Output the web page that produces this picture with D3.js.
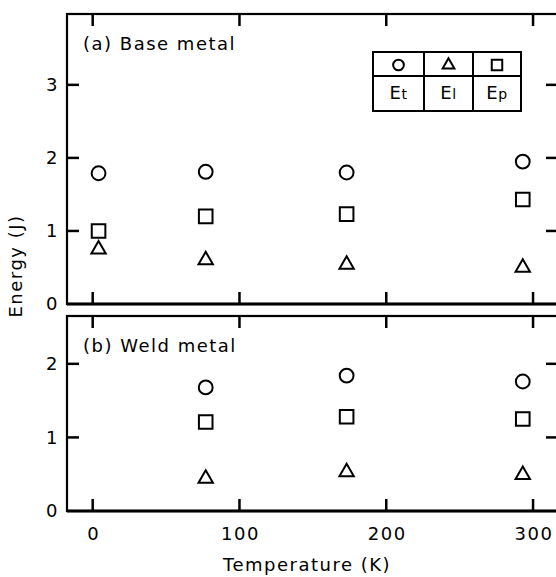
<!DOCTYPE html>
<html>
<head>
<meta charset="utf-8">
<script src="https://cdn.jsdelivr.net/npm/d3@7"></script>
<style>
  body { margin: 0; background: #fff; }
  svg { font-family: "DejaVu Sans", sans-serif; }
  text { font-size: 18px; letter-spacing: 1.5px; fill: #000; }
</style>
</head>
<body>
<svg width="556" height="577"></svg>
<script>
// temperatures (K) and energies (J)
var baseTemp = [4, 77, 173, 293],
    baseEt = [1.79, 1.81, 1.80, 1.95],
    baseEi = [0.75, 0.60, 0.54, 0.50],
    baseEp = [1.00, 1.20, 1.23, 1.43];

var weldTemp = [77, 173, 293],
    weldEt = [1.68, 1.84, 1.76],
    weldEi = [0.44, 0.53, 0.49],
    weldEp = [1.21, 1.28, 1.25];

var xTicks = [0, 100, 200, 300];

var svg = d3.select("svg");

var left = 67, right = 558, tickLen = 12;

// shared temperature scale
var x = d3.scaleLinear().domain([-17.5, 317]).range([left, right]);

var panels = [
  {label: "(a) Base metal", top: 14, bottom: 304, ymax: 3.97, yticks: [0, 1, 2, 3],
   temp: baseTemp, et: baseEt, ei: baseEi, ep: baseEp, xlabels: false},
  {label: "(b) Weld metal", top: 316, bottom: 511, ymax: 2.65, yticks: [0, 1, 2],
   temp: weldTemp, et: weldEt, ei: weldEi, ep: weldEp, xlabels: true}
];

var circle = d3.symbol().type(d3.symbolCircle).size(150),
    triangle = d3.symbol().type(d3.symbolTriangle).size(90),
    square = d3.symbol().type(d3.symbolSquare).size(185);

panels.forEach(function(p) {
  var y = d3.scaleLinear().domain([0, p.ymax]).range([p.bottom, p.top]);
  var g = svg.append("g");
  var h = p.bottom - p.top, w = right - left;

  // frame
  g.append("rect")
      .attr("x", left).attr("y", p.top)
      .attr("width", w).attr("height", h)
      .attr("fill", "none").attr("stroke", "#000").attr("stroke-width", 2.2);
  g.append("line")
      .attr("x1", left).attr("x2", right)
      .attr("y1", p.bottom).attr("y2", p.bottom)
      .attr("stroke", "#000").attr("stroke-width", 3);

  // inward ticks on all four sides
  xTicks.forEach(function(t) {
    g.append("line").attr("class", "tk")
        .attr("x1", x(t)).attr("x2", x(t))
        .attr("y1", p.bottom).attr("y2", p.bottom - tickLen);
    g.append("line").attr("class", "tk")
        .attr("x1", x(t)).attr("x2", x(t))
        .attr("y1", p.top).attr("y2", p.top + tickLen);
  });
  p.yticks.slice(1).forEach(function(t) {
    g.append("line").attr("class", "tk")
        .attr("x1", left).attr("x2", left + tickLen)
        .attr("y1", y(t)).attr("y2", y(t));
    g.append("line").attr("class", "tk")
        .attr("x1", right - tickLen).attr("x2", right)
        .attr("y1", y(t)).attr("y2", y(t));
  });
  g.selectAll(".tk").attr("stroke", "#000").attr("stroke-width", 2.5);

  // tick labels
  g.selectAll(".yl").data(p.yticks).enter().append("text")
      .attr("x", left - 8).attr("y", function(d) { return y(d); })
      .attr("dy", "0.36em").attr("text-anchor", "end")
      .text(function(d) { return d; });
  if (p.xlabels) {
    g.selectAll(".xl").data(xTicks).enter().append("text")
        .attr("x", function(d) { return x(d) + 1; }).attr("y", p.bottom + 29)
        .attr("text-anchor", "middle")
        .text(function(d) { return d; });
  }

  g.append("text")
      .attr("x", left + 16).attr("y", p.top + 36)
      .text(p.label);

  function marks(vals, sym) {
    g.append("g").selectAll("path")
        .data(vals).enter().append("path")
        .attr("transform", function(d, i) { return "translate(" + x(p.temp[i]) + "," + y(d) + ")"; })
        .attr("d", sym)
        .attr("fill", "none").attr("stroke", "#000").attr("stroke-width", 2);
  }
  marks(p.et, circle);
  marks(p.ei, triangle);
  marks(p.ep, square);
});

// legend table in panel (a)
var legend = svg.append("g").attr("transform", "translate(373,52)");
var lw = 148, lh = 59, cols = [0, 51, 100, 148];
legend.append("rect").attr("width", lw).attr("height", lh)
    .attr("fill", "#fff").attr("stroke", "#000").attr("stroke-width", 2);
legend.append("line").attr("x1", 0).attr("x2", lw).attr("y1", 24).attr("y2", 24)
    .attr("stroke", "#000").attr("stroke-width", 2);
[1, 2].forEach(function(i) {
  legend.append("line").attr("x1", cols[i]).attr("x2", cols[i]).attr("y1", 0).attr("y2", lh)
      .attr("stroke", "#000").attr("stroke-width", 2);
});
var legSyms = [d3.symbol().type(d3.symbolCircle).size(90),
               d3.symbol().type(d3.symbolTriangle).size(60),
               d3.symbol().type(d3.symbolSquare).size(110)];
var legNames = [["E", "t"], ["E", "l"], ["E", "p"]];
legSyms.forEach(function(s, i) {
  var cx = (cols[i] + cols[i + 1]) / 2;
  legend.append("path").attr("d", s)
      .attr("transform", "translate(" + cx + "," + 13 + ")")
      .attr("fill", "none").attr("stroke", "#000").attr("stroke-width", 2);
  var t = legend.append("text").attr("x", cx).attr("y", 47)
      .attr("text-anchor", "middle").style("letter-spacing", "0.5px");
  t.append("tspan").text(legNames[i][0]);
  t.append("tspan").style("font-size", "14px").text(legNames[i][1]);
});

// axis titles
svg.append("text")
    .attr("x", 307).attr("y", 571)
    .attr("text-anchor", "middle")
    .text("Temperature (K)");
svg.append("text")
    .attr("transform", "translate(22,266) rotate(-90)")
    .attr("text-anchor", "middle")
    .text("Energy (J)");
</script>
</body>
</html>
